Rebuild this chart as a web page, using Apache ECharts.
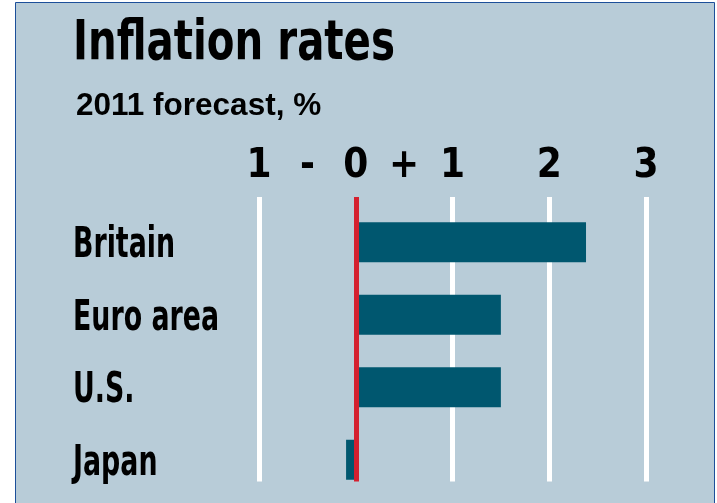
<!DOCTYPE html>
<html>
<head>
<meta charset="utf-8">
<script src="https://cdn.jsdelivr.net/npm/echarts@6/dist/echarts.min.js"></script>
<style>html,body{margin:0;padding:0;background:#fff}#c{width:717px;height:503px}</style>
</head>
<body>
<div id="c"></div>
<script>
const categories = ['Britain', 'Euro area', 'U.S.', 'Japan'];
const values = [2.38, 1.5, 1.5, -0.1];
const tickValues = [-1, -0.5, 0, 0.5, 1, 1.5, 2, 2.5, 3];
const tickLabels = ['1', '-', '0', '+', '1', '', '2', '', '3'];
const titleText = 'Inflation rates';
const subtitleText = '2011 forecast, %';

const FONT = "'Liberation Sans Narrow', 'Arial Narrow', 'DejaVu Sans Condensed', sans-serif";
const BG = '#b8ccd8';
const BAR = '#00576f';
const RED = '#d4202f';

const chart = echarts.init(document.getElementById('c'), null, {renderer: 'canvas'});
const gridGeom = {left: 259, right: 71};
const lineColors = tickValues.filter(v => Number.isInteger(v)).map(v => v === 0 ? 'rgba(0,0,0,0)' : '#ffffff');
const redColors = tickValues.filter(v => Number.isInteger(v)).map(v => v === 0 ? RED : 'rgba(0,0,0,0)');

const baseGraphic = [
  {type: 'rect', id: 'bg', z: -10, silent: true,
   shape: {x: 15.5, y: 2.5, width: 699, height: 520},
   style: {fill: BG, stroke: '#1c4f9a', lineWidth: 1}},
  {type: 'text', id: 'title', x: 73, y: 44.5, scaleX: 0.8, z: 5,
   style: {text: titleText, fontFamily: FONT, fontWeight: 'bold', fontSize: 56, fill: '#000',
           align: 'left', verticalAlign: 'middle'}},
  {type: 'text', id: 'subtitle', x: 76, y: 106, z: 5,
   style: {text: subtitleText, fontFamily: "'Liberation Sans', Arial, sans-serif", fontWeight: 'bold',
           fontSize: 31.5, fill: '#000', align: 'left', verticalAlign: 'middle'}}
];

chart.setOption({
  backgroundColor: '#ffffff',
  animation: false,
  graphic: baseGraphic,
  grid: [
    {left: gridGeom.left, right: gridGeom.right, top: 197, bottom: 21.5},
    {left: gridGeom.left, right: gridGeom.right, top: 206, bottom: 7},
    {left: gridGeom.left, right: gridGeom.right, top: 197, bottom: 21.5}
  ],
  xAxis: [
    {gridIndex: 0, type: 'value', min: -1, max: 3, interval: 1, position: 'top', z: 0,
     axisLine: {show: false}, axisTick: {show: false}, axisLabel: {show: false},
     splitLine: {show: true, lineStyle: {color: lineColors, width: 5}}},
    {gridIndex: 0, type: 'value', min: -1, max: 3, interval: 0.5, position: 'top',
     axisLine: {show: false}, axisTick: {show: false}, splitLine: {show: false},
     axisLabel: {show: true, margin: 30, verticalAlign: 'middle', showMinLabel: true, showMaxLabel: true,
       fontFamily: FONT, fontWeight: 'bold', fontSize: 40, color: '#000',
       formatter: v => { const i = tickValues.findIndex(t => Math.abs(t - v) < 1e-9); return i >= 0 ? tickLabels[i] : ''; }}},
    {gridIndex: 1, type: 'value', min: -1, max: 3, interval: 1,
     axisLine: {show: false}, axisTick: {show: false}, axisLabel: {show: false}, splitLine: {show: false}},
    {gridIndex: 2, type: 'value', min: -1, max: 3, interval: 1, z: 10,
     axisLine: {show: false}, axisTick: {show: false}, axisLabel: {show: false},
     splitLine: {show: true, lineStyle: {color: redColors, width: 5}}}
  ],
  yAxis: [
    {gridIndex: 0, type: 'value', min: 0, max: 1, show: false},
    {gridIndex: 1, type: 'category', data: categories, inverse: true,
     axisLine: {show: false}, axisTick: {show: false}, splitLine: {show: false},
     axisLabel: {show: false}},
    {gridIndex: 2, type: 'value', min: 0, max: 1, show: false}
  ],
  series: [{
    type: 'bar', xAxisIndex: 2, yAxisIndex: 1, data: values, barWidth: 40, z: 2,
    itemStyle: {color: BAR}
  }]
});

// Category labels: positioned from the category axis, condensed horizontally
const catLabels = categories.map((c, i) => {
  const y = chart.convertToPixel({yAxisIndex: 1}, c);
  return {type: 'text', id: 'cat' + i, x: 73, y: y + 4, scaleX: 0.71, z: 5,
          style: {text: c, fontFamily: FONT, fontWeight: 'bold', fontSize: 42, fill: '#000',
                  align: 'left', verticalAlign: 'middle'}};
});
chart.setOption({graphic: baseGraphic.concat(catLabels)});
</script>
</body>
</html>
